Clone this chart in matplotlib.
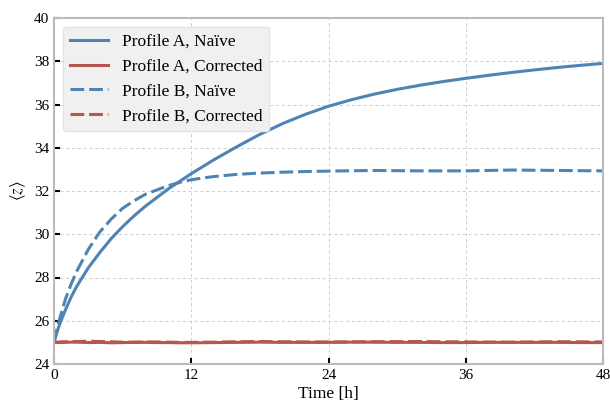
import matplotlib
matplotlib.use("Agg")
import matplotlib.pyplot as plt

plt.rcParams["font.family"] = ["Liberation Serif", "DejaVu Serif"]
plt.rcParams["mathtext.fontset"] = "stix"

# profile A sampled times [h]
time_a = [0, 0.25, 0.5, 1, 1.5, 2, 3, 4, 5, 6, 7, 8, 9, 10, 11, 12, 14, 16, 18, 20, 22, 24,
          26, 28, 30, 32, 34, 36, 38, 40, 42, 44, 46, 48]
profile_a_naive = [25.0, 25.45, 25.85, 26.5, 27.1, 27.6, 28.45, 29.15, 29.8, 30.35, 30.85, 31.3,
                   31.7, 32.1, 32.45, 32.8, 33.45, 34.05, 34.62, 35.12, 35.55, 35.92, 36.22, 36.48,
                   36.7, 36.89, 37.06, 37.21, 37.35, 37.48, 37.6, 37.71, 37.81, 37.9]
profile_a_corr = [25.0, 25.0, 24.99, 25.0, 25.01, 25.01, 24.99, 25.0, 24.98, 24.99, 25.0, 25.0,
                  24.99, 24.99, 24.98, 24.98, 24.99, 25.0, 25.01, 25.0, 25.0, 25.0, 25.01, 25.01,
                  25.0, 25.0, 24.99, 24.99, 25.0, 25.0, 25.0, 25.0, 24.99, 24.99]

# profile B sampled times [h]
time_b = [0, 0.25, 0.5, 1, 1.5, 2, 3, 4, 5, 6, 7, 8, 9, 10, 11, 12, 13, 14, 16, 18, 20, 22, 24,
          28, 32, 36, 40, 44, 48]
profile_b_naive = [25.0, 25.6, 26.1, 27.0, 27.7, 28.3, 29.3, 30.1, 30.7, 31.2, 31.55, 31.85,
                   32.05, 32.25, 32.4, 32.52, 32.6, 32.67, 32.77, 32.83, 32.87, 32.9, 32.92,
                   32.95, 32.93, 32.93, 32.97, 32.95, 32.93]
profile_b_corr = [25.0, 25.01, 25.02, 25.03, 25.04, 25.04, 25.05, 25.04, 25.03, 25.01, 25.01, 25.02,
                  25.02, 25.01, 25.0, 25.0, 25.01, 25.01, 25.03, 25.04, 25.03, 25.02, 25.02,
                  25.03, 25.04, 25.02, 25.01, 25.03, 25.02]

blue = "#4e84b4"
red = "#b5574d"

fig = plt.figure(figsize=(6.1, 4.01), dpi=100)
ax = fig.add_axes([54 / 610, 1 - 364 / 401, 549 / 610, 346 / 401])

ax.plot(time_a, profile_a_naive, color=blue, lw=2.2, label="Profile A, Naïve")
ax.plot(time_a, profile_a_corr, color=red, lw=2.2, label="Profile A, Corrected")
ax.plot(time_b, profile_b_naive, color=blue, lw=2.2, ls="--", dashes=(4.5, 1.6),
        label="Profile B, Naïve")
ax.plot(time_b, profile_b_corr, color=red, lw=2.2, ls="--", dashes=(4.5, 1.6),
        label="Profile B, Corrected")

ax.set_xlim(0, 48)
ax.set_ylim(24, 40)
ax.set_xticks([0, 12, 24, 36, 48])
ax.set_yticks(range(24, 41, 2))
ax.tick_params(direction="in", length=4, width=1.5, labelsize=11, top=False, right=False)
ax.grid(True, ls=(0, (3, 3)), lw=0.7, color="#cccccc")
for s in ax.spines.values():
    s.set_color("#bbbbbb")
    s.set_linewidth(1.5)

ax.set_xlabel("Time [h]", fontsize=12.5, labelpad=3)
ax.set_ylabel(r"$\langle z\rangle$", fontsize=12)

leg = ax.legend(loc="upper left", fontsize=12.5, fancybox=True, framealpha=1,
                facecolor="#f0f0f0", edgecolor="#e4e4e4", handlelength=2.2,
                labelspacing=0.5)

fig.savefig("out.png", dpi=100)
